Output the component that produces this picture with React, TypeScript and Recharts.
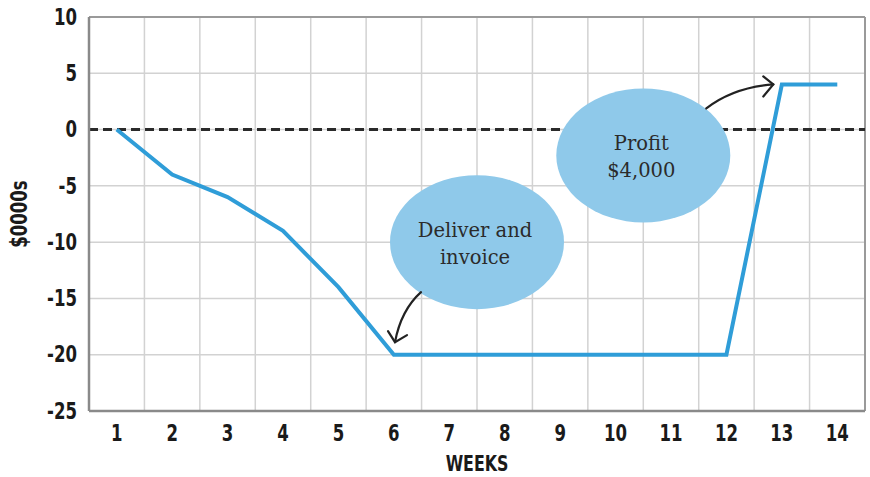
import React from "react";
import {
  LineChart,
  Line,
  XAxis,
  YAxis,
  CartesianGrid,
  ReferenceLine,
  ReferenceDot,
  Label,
} from "recharts";

const weeks = [1, 2, 3, 4, 5, 6, 7, 8, 9, 10, 11, 12, 13, 14];
const cashFlow = [0, -4, -6, -9, -14, -20, -20, -20, -20, -20, -20, -20, 4, 4];
const yTicks = [10, 5, 0, -5, -10, -15, -20, -25];

// speech bubbles: centre in data units
const bubbleDeliver = { week: 7.5, value: -10, lines: ["Deliver and", "invoice"] };
const bubbleProfit = { week: 10.5, value: -2.3, lines: ["Profit", "$4,000"] };

const data = weeks.map((w, i) => ({ week: w, cash: cashFlow[i] }));
const weekBounds = weeks.slice(1).map((w) => w - 0.5);

const axisFont = "'Liberation Sans Narrow', 'DejaVu Sans Condensed', 'Arial Narrow', sans-serif";
const noteFont = "'DejaVu Serif', 'Liberation Serif', serif";
const bubbleFill = "#8fc9ea";
const gridColor = "#d2d2d2";

// narrow bold label: squeeze horizontally to get the condensed poster look
function NarrowText(props: any) {
  const { x, y, children, anchor = "middle", rotate = 0, size = 23 } = props;
  return (
    <text
      transform={`translate(${x}, ${y}) rotate(${rotate}) scale(0.8, 1)`}
      textAnchor={anchor}
      dominantBaseline="central"
      fontFamily={axisFont}
      fontWeight={700}
      fontSize={size}
      fill="#1a1a1a"
    >
      {children}
    </text>
  );
}

function XTick(props: any) {
  const { x, y, payload } = props;
  return <NarrowText x={x} y={y + 12}>{payload.value}</NarrowText>;
}

function YTick(props: any) {
  const { x, y, payload } = props;
  return (
    <NarrowText x={x} y={y} anchor="end">
      {payload.value}
    </NarrowText>
  );
}

function Bubble(props: any) {
  const { cx, cy, lines, arrow } = props;
  return (
    <g>
      <ellipse cx={cx} cy={cy} rx={87} ry={67} fill={bubbleFill} />
      {lines.map((t: string, i: number) => (
        <text
          key={t}
          x={cx - 2}
          y={cy - 12 + i * 27}
          textAnchor="middle"
          dominantBaseline="central"
          fontFamily={noteFont}
          fontSize={19.5}
          fill="#2b2b2b"
        >
          {t}
        </text>
      ))}
      {arrow === "down" ? (
        <g fill="none" stroke="#222" strokeWidth={2.2} strokeLinecap="round">
          <path d={`M ${cx - 56} ${cy + 50} Q ${cx - 76} ${cy + 68} ${cx - 82} ${cy + 100}`} />
          <path d={`M ${cx - 89} ${cy + 89} L ${cx - 82} ${cy + 100} L ${cx - 70} ${cy + 93}`} />
        </g>
      ) : (
        <g fill="none" stroke="#222" strokeWidth={2.2} strokeLinecap="round">
          <path d={`M ${cx + 63} ${cy - 47} Q ${cx + 90} ${cy - 68} ${cx + 130} ${cy - 71}`} />
          <path d={`M ${cx + 120} ${cy - 79} L ${cx + 130} ${cy - 71} L ${cx + 120} ${cy - 59}`} />
        </g>
      )}
    </g>
  );
}

export default function App() {
  return (
    <div style={{ position: "absolute", left: 0, top: 0, background: "#fff" }}>
      <LineChart width={870} height={477} data={data} margin={{ top: 17, right: 5, left: 0, bottom: 0 }}>
        <CartesianGrid vertical={false} stroke={gridColor} strokeWidth={1.5} />
        {weekBounds.map((b) => (
          <ReferenceLine key={b} x={b} stroke={gridColor} strokeWidth={1.5} />
        ))}
        <ReferenceLine x={14.5} stroke="#9a9a9a" strokeWidth={2} />
        <ReferenceLine y={10} stroke="#9a9a9a" strokeWidth={2} />
        <XAxis
          dataKey="week"
          type="number"
          domain={[0.5, 14.5]}
          ticks={weeks}
          tickSize={0}
          tickMargin={10}
          axisLine={{ stroke: "#8a8a8a", strokeWidth: 2.5 }}
          tick={<XTick />}
          height={66}
        >
          <Label
            content={({ viewBox }: any) => (
              <NarrowText x={viewBox.x + viewBox.width / 2} y={viewBox.y + 53} size={22}>
                WEEKS
              </NarrowText>
            )}
          />
        </XAxis>
        <YAxis
          type="number"
          domain={[-25, 10]}
          ticks={yTicks}
          interval={0}
          width={89}
          tickSize={0}
          tickMargin={12}
          axisLine={{ stroke: "#8a8a8a", strokeWidth: 2.5 }}
          tick={<YTick />}
        >
          <Label
            content={({ viewBox }: any) => (
              <NarrowText x={viewBox.x + 19} y={viewBox.y + viewBox.height / 2} rotate={-90} size={23}>
                $0000s
              </NarrowText>
            )}
          />
        </YAxis>
        <ReferenceLine y={0} stroke="#2a2a2a" strokeWidth={3} strokeDasharray="9 5" />
        <Line
          type="linear"
          dataKey="cash"
          stroke="#2f9dd8"
          strokeWidth={4}
          dot={false}
          isAnimationActive={false}
        />
        <ReferenceDot
          x={bubbleDeliver.week}
          y={bubbleDeliver.value}
          shape={(p: any) => <Bubble cx={p.cx} cy={p.cy} lines={bubbleDeliver.lines} arrow="down" />}
        />
        <ReferenceDot
          x={bubbleProfit.week}
          y={bubbleProfit.value}
          shape={(p: any) => <Bubble cx={p.cx} cy={p.cy} lines={bubbleProfit.lines} arrow="up" />}
        />
      </LineChart>
    </div>
  );
}
